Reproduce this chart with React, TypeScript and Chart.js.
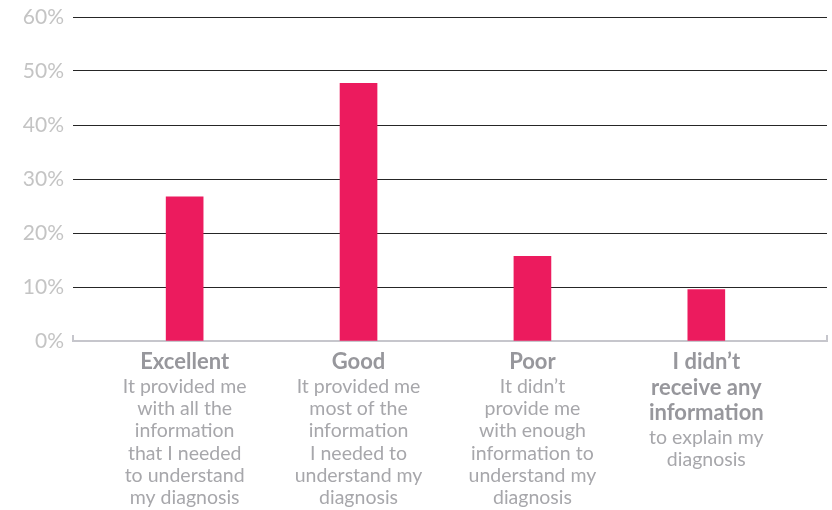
import React, { useEffect, useRef } from "react";
import { Chart, registerables } from "chart.js";

Chart.register(...registerables);

const categoryTitles: string[][] = [
  ["Excellent"],
  ["Good"],
  ["Poor"],
  ["I didn’t", "receive any", "information"],
];
const categoryDescriptions: string[][] = [
  ["It provided me", "with all the", "information", "that I needed", "to understand", "my diagnosis"],
  ["It provided me", "most of the", "information", "I needed to", "understand my", "diagnosis"],
  ["It didn’t", "provide me", "with enough", "information to", "understand my", "diagnosis"],
  ["to explain my", "diagnosis"],
];
const percentValues: number[] = [26.7, 47.7, 15.7, 9.5];
const yMin = 0;
const yMax = 60;
const yStep = 10;

const BAR_COLOR = "#ec1b5e";
const AXIS_COLOR = "#c6c6cc";
const GRID_COLOR = "#262626";
const TICK_COLOR = "#c4c4c4";
const TITLE_COLOR = "#97979c";
const DESC_COLOR = "#a7a7ab";

const labelPlugin = {
  id: "multiLabels",
  afterDraw(chart: any) {
    const { ctx, chartArea } = chart;
    const xs = chart.scales.x;
    ctx.save();
    ctx.strokeStyle = AXIS_COLOR;
    ctx.lineWidth = 2;
    ctx.beginPath();
    ctx.moveTo(chartArea.left, chartArea.bottom - 6);
    ctx.lineTo(chartArea.left, chartArea.bottom);
    ctx.moveTo(chartArea.right, chartArea.bottom - 6);
    ctx.lineTo(chartArea.right, chartArea.bottom);
    ctx.stroke();

    ctx.textAlign = "center";
    ctx.textBaseline = "middle";
    categoryTitles.forEach((title, i) => {
      const x = xs.getPixelForValue(i);
      let y = 362;
      ctx.font = "bold 22px Lato";
      ctx.fillStyle = TITLE_COLOR;
      title.forEach((line) => {
        ctx.fillText(line, x, y);
        y += 25.5;
      });
      y -= 1;
      ctx.font = "19.5px Lato";
      ctx.fillStyle = DESC_COLOR;
      categoryDescriptions[i].forEach((line) => {
        ctx.fillText(line, x, y);
        y += 22.3;
      });
    });
    ctx.restore();
  },
};

export default function App() {
  const canvasRef = useRef<HTMLCanvasElement | null>(null);

  useEffect(() => {
    if (!canvasRef.current) return;
    const chart = new Chart(canvasRef.current, {
      type: "bar",
      data: {
        datasets: [
          {
            data: percentValues.map((v, i) => ({ x: i, y: v })),
            backgroundColor: BAR_COLOR,
            barThickness: 37,
            borderWidth: 0,
          },
        ],
      },
      options: {
        animation: false,
        responsive: false,
        maintainAspectRatio: false,
        layout: { padding: { left: 0, right: 5, top: 17, bottom: 161 } },
        plugins: {
          legend: { display: false },
          tooltip: { enabled: false },
        },
        scales: {
          x: {
            type: "linear",
            offset: false,
            min: -0.642,
            max: 3.694,
            grid: { display: false },
            ticks: { display: false },
            border: { display: true, color: AXIS_COLOR, width: 2 },
          },
          y: {
            min: yMin,
            max: yMax,
            afterFit: (scale: any) => {
              scale.width = 73;
              scale.paddingTop = 0;
              scale.paddingBottom = 0;
            },
            ticks: {
              stepSize: yStep,
              padding: 9,
              color: TICK_COLOR,
              font: { family: "Lato", size: 21 },
              callback: (v: any) => `${v}%`,
            },
            grid: {
              drawTicks: false,
              color: (c: any) => (c.tick && c.tick.value === 0 ? "rgba(0,0,0,0)" : GRID_COLOR),
              lineWidth: 1,
            },
            border: { display: false },
          },
        },
      },
      plugins: [labelPlugin],
    });
    return () => chart.destroy();
  }, []);

  return (
    <div style={{ position: "absolute", left: 0, top: 0, width: 832, height: 510, background: "#fff" }}>
      <canvas ref={canvasRef} width={832} height={510} style={{ width: 832, height: 510 }} />
    </div>
  );
}
